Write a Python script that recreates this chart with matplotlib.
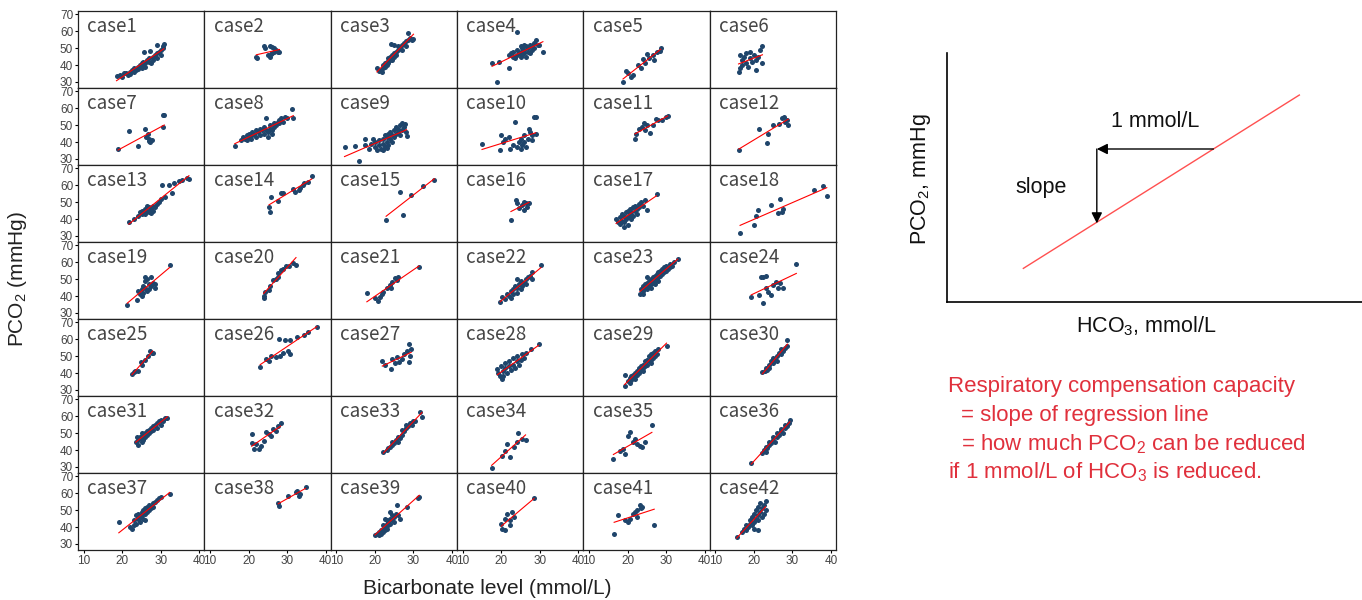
import numpy as np
import matplotlib.pyplot as plt

plt.rcParams['font.family'] = ['Liberation Sans', 'DejaVu Sans']
plt.rcParams['mathtext.fontset'] = 'custom'
plt.rcParams['mathtext.rm'] = 'Liberation Sans'

# (HCO3 mmol/L, PCO2 mmHg) points
c1 = [(18.5, 33.5), (19.5, 34), (20, 33), (20.5, 35), (21, 35.5), (21.5, 34), (22, 36), (22, 34.5), (22.5, 37),
      (23, 36), (23, 38), (23.5, 37), (24, 39), (24, 37.5), (24.5, 40), (25, 38), (25, 41), (25.5, 40), (25.5, 42),
      (26, 41), (26, 39), (26.5, 43), (27, 42), (27, 44), (27.5, 41), (28, 45), (28, 43), (28.5, 46), (29, 44),
      (29, 47), (29.5, 48), (30, 49), (30, 46), (30.5, 51), (30.5, 50), (25.6, 48), (27.3, 48.5), (29, 52), (30.8, 52.5)]
c2 = [(22, 44.5), (22.2, 44), (24, 51), (24.3, 50), (25.5, 51), (26, 50.5), (26.5, 50), (25, 46), (25.5, 45),
      (26, 47), (26.5, 48), (27, 49), (27.5, 48), (28, 47.5), (25.8, 46.5)]
c3 = [(20.5, 38), (21, 36.5), (21.5, 37), (21.8, 35.8), (22, 40), (22, 38), (22.5, 39), (22.5, 41), (23, 40), (23, 42),
      (23.5, 44), (23.5, 41), (24, 43), (24, 45), (24.5, 46), (24.5, 43), (25, 47), (25, 45), (25.5, 48), (25.5, 46),
      (26, 49), (26, 51), (26.5, 50), (27, 52), (27, 49), (27.5, 53), (28, 54), (28, 51), (28.5, 55), (29, 56),
      (28.5, 58.7), (29.5, 55), (30, 55.5), (25, 52), (24.2, 52.7)]
c4 = [(17.6, 41), (19.4, 41.7), (19, 30), (21.9, 38), (24.2, 59.7), (22, 46), (22.5, 47), (23, 45), (23, 48),
      (23.5, 44), (24, 46), (24, 49), (24.5, 47), (25, 45), (25, 48), (25.5, 46), (25.5, 50), (26, 47), (26, 49),
      (26.5, 45), (26.5, 51), (27, 48), (27, 50), (27.5, 47), (27.5, 52), (28, 49), (28, 51), (28.5, 53), (29, 54.7),
      (29.5, 52), (29.9, 51.7), (30.8, 47.7), (28.5, 50), (26, 52), (25, 51)]
c5 = [(18.8, 30.2), (19.5, 36.4), (20, 35), (20.8, 33.2), (21.5, 34), (22.8, 39.8), (23.4, 38), (24.1, 43.8),
      (24.5, 41), (25.1, 46.7), (25.6, 44), (26.5, 46), (26.9, 43.2), (27.5, 48), (28.3, 48.3), (28.6, 50)]
c6 = [(16, 36), (16.5, 38), (17, 40), (17, 43), (17.5, 45), (18, 41), (18, 47), (18.5, 39), (19, 44), (19, 48),
      (19.5, 42), (20, 46), (20.5, 37), (20.5, 43), (21, 45), (21.5, 49), (22, 51.5), (22.2, 41), (16.5, 46)]
c7 = [(18.9, 36), (21.7, 46.3), (24.1, 37.6), (25.8, 47.9), (26.2, 43), (26.6, 45), (26.9, 40.4), (27.3, 39.8),
      (27, 42), (27.6, 41), (30.5, 48.9), (30.5, 55.9), (30.9, 56)]
c8 = [(16.4, 37.6), (18, 41), (18.5, 43), (19, 42), (19.5, 44), (19.5, 41.5), (20, 43), (20, 45), (20.5, 42),
      (21, 44), (21, 46), (21.5, 45), (22, 43), (22, 47), (22.5, 46), (23, 44), (23, 48), (23.5, 47), (24, 45),
      (24, 49), (24.4, 54.5), (24.5, 47), (25, 43), (25, 46), (25.5, 48), (25.5, 50), (26, 47), (26.5, 49),
      (26.5, 51), (27, 50), (27.5, 52), (28, 51), (28, 53), (28.5, 54), (29, 52), (29.5, 55), (30, 54),
      (31.3, 59.3), (31.6, 54), (26, 44.5)]
c9 = [(12.1, 37.3), (14.7, 37.6), (15.8, 28.5), (17.3, 42), (17.5, 38), (18.5, 36), (19, 39), (19.5, 42), (20, 37),
      (20, 40), (20.5, 35), (21, 38), (21, 41), (21.5, 36), (22, 39), (22, 42), (22.5, 37), (22.5, 44), (23, 40),
      (23, 43), (23.5, 38), (23.5, 45), (24, 42), (24, 46), (24.5, 40), (24.5, 44), (25, 47), (25, 43), (25.5, 45),
      (25.5, 49), (26, 46), (26, 48), (26.5, 44), (26.5, 50), (27, 47), (27, 51), (27.5, 49), (27.7, 50.7),
      (28.2, 43.4), (28, 46), (22, 35.5), (23, 36.5)]
c10 = [(15, 39), (19.8, 44.3), (19.6, 35), (20.5, 40), (21, 42), (21.9, 43), (22.3, 36), (23.6, 51.9), (23, 38),
       (24, 37), (24.5, 40), (25, 36), (25, 42), (25.5, 38), (26, 40), (26, 44), (26.5, 37), (27, 42), (27.3, 48),
       (27.5, 46), (28, 44), (28.5, 54.9), (28.9, 54.9), (28.9, 45), (28, 41)]
c11 = [(21.9, 42), (22.3, 45), (23, 48), (23.8, 48.8), (24.3, 51), (24.5, 47), (25.1, 50), (25.9, 45.2), (26.5, 50),
       (27.3, 53.4), (28, 52.8), (29, 53), (30, 54.9), (30.4, 55.5)]
c12 = [(16.1, 35.2), (21.2, 47.7), (23.4, 39.3), (23.7, 45), (24.9, 50), (26.5, 50.5), (27.4, 54), (27.8, 55),
       (28, 52), (28.5, 53), (28.9, 50)]
c13 = [(21.7, 38.4), (23, 40), (24, 42), (24.5, 44), (25, 43), (25, 45), (25.5, 44), (26, 46), (26, 43), (26.5, 45),
       (27, 47), (27, 44), (27.5, 46), (28, 45), (28, 48), (28.5, 47), (29, 49), (29.5, 50), (30, 52), (30.4, 60.3),
       (31, 53), (32.1, 60.3), (32.9, 55.3), (33.3, 61.3), (34.8, 62.3), (35.5, 63), (36.7, 64.2), (37.3, 63.6),
       (26.5, 48), (27.5, 43.5)]
c14 = [(25.5, 44.4), (25.8, 53.3), (25.3, 47), (27.6, 50.7), (28.3, 55.3), (28.9, 55.7), (31.4, 57.6), (32, 56.3),
       (33, 57), (33.3, 58.3), (34, 60), (34.5, 61.3), (35.5, 62), (36.4, 65.6)]
c15 = [(22.9, 39.4), (26.4, 56.3), (27.2, 42.4), (29.3, 54.3), (32.6, 59.3), (35.4, 62.9)]
c16 = [(22.5, 39.4), (23.9, 51.3), (24.2, 49.5), (24.7, 46.4), (25.3, 48.3), (25.9, 45.4), (26.3, 49.3),
       (26.8, 47.3), (27.2, 49.7), (26, 50)]
c17 = [(17, 40), (17.5, 38), (18, 41), (18, 37), (18.5, 43), (18.5, 39), (19, 42), (19, 38.5), (19.5, 44), (19.5, 40),
       (20, 45), (20, 41), (20.5, 43), (20.5, 46), (21, 44), (21, 40), (21.5, 47), (21.5, 42), (22, 45), (22, 48),
       (22.5, 46), (22.5, 43), (23, 49), (23, 47), (23.5, 50), (24, 48), (24.5, 51), (25, 45.4), (27.5, 55),
       (19, 35.5), (20, 36.5)]
c18 = [(16.4, 32), (19.9, 36.4), (20.5, 41.8), (21.1, 45.4), (24.5, 48.3), (26.2, 43.4), (26.8, 51.7), (27.2, 44.4),
       (27.5, 46), (35.5, 57.3), (38, 59.3), (38.9, 53.7)]
c19 = [(21.3, 34.6), (23.8, 37.6), (24, 43), (24.5, 41), (25, 44), (25, 40), (25.5, 46), (25.5, 42), (26, 45),
       (26, 49), (26.5, 43), (26.5, 50), (27, 47), (27, 44), (27.5, 46), (27.5, 51), (28, 48), (28.5, 45), (28.5, 47),
       (32.3, 58.1), (26, 51)]
c20 = [(23.9, 38.6), (24.1, 40), (24.3, 42.6), (25.2, 43.6), (25.6, 46), (26.4, 49.5), (27, 50), (27.7, 53.5),
       (27.7, 51.5), (28.3, 55.5), (28.8, 56), (29.6, 57.5), (30.5, 58), (31.5, 59.5), (32.3, 58.5)]
c21 = [(17.9, 41.6), (20, 38.6), (20.7, 37.2), (21.3, 39.6), (21.7, 41), (22.2, 42.6), (23.2, 44.6), (23.8, 46.6),
       (24.2, 45), (24.5, 48.5), (25.1, 50.5), (25.7, 49.5), (26, 51), (31.4, 56.9)]
c22 = [(19.7, 36.6), (20.3, 39.6), (21, 38), (21.5, 41), (22, 40), (22.5, 43), (22.5, 39), (23, 44), (23, 41),
       (23.5, 46), (24, 42), (24, 45), (24.5, 47), (25, 44), (25, 49), (25.5, 46), (26, 48), (26.5, 50), (26.5, 47),
       (27, 51), (27.5, 52), (28, 50), (28, 54), (30.3, 58.5), (24, 50)]
c23 = [(23.2, 41), (23.5, 44), (24, 43), (24, 46), (24.5, 45), (24.5, 47), (25, 44), (25, 48), (25.5, 46), (25.5, 49),
       (26, 47), (26, 50), (26.5, 48), (26.5, 51), (27, 49), (27, 52), (27.5, 50), (27.5, 53), (28, 51), (28, 54),
       (28.5, 52), (28.5, 55), (29, 53), (29, 56), (29.5, 54), (29.5, 57), (30, 55), (30, 58), (30.5, 56), (31, 57),
       (31, 59), (31.5, 58), (32, 60), (33, 62), (26, 45), (27, 47), (28, 49), (25, 51), (24, 41.5)]
c24 = [(19.3, 39.6), (21.2, 40.6), (21.8, 51.5), (22.4, 51.5), (22.4, 36), (23.1, 44.6), (23.7, 42.6), (24.3, 40.6),
       (25, 46.6), (25.6, 48.5), (26.2, 44.6), (26.8, 47.5), (27.5, 45), (31, 59.1), (23, 52)]
c25 = [(22.5, 39.4), (23, 40.5), (23.3, 41.4), (24.2, 41.4), (24.8, 46.4), (25.2, 45), (26, 47.7), (26.7, 50.3),
       (27.1, 53.3), (27.6, 52), (27.9, 51.7)]
c26 = [(23, 43.4), (24.5, 48.3), (25.2, 47), (25.8, 50.3), (27, 49.3), (28, 60.3), (28.2, 50.3), (29, 52),
       (29.5, 59.3), (30.1, 53.3), (30.8, 51.3), (30.8, 59.3), (32.6, 61.3), (34.5, 62.3), (35.5, 64.2), (37.7, 67.2)]
c27 = [(21.9, 47.3), (22.5, 45), (24.2, 42.4), (24.5, 48.3), (25.2, 46), (25.7, 49.3), (26.3, 46.4), (27, 48.3),
       (27.6, 51.3), (28.2, 53.3), (28.8, 57.3), (28.8, 46.4), (29.4, 54.3), (29, 50)]
c28 = [(19, 42.4), (19.2, 40), (19.7, 38.4), (20.3, 36.4), (20, 44), (20.5, 41), (21, 43), (21, 46), (21.5, 40),
       (22, 44), (22, 47), (22.5, 42), (23, 45), (23, 49), (23.5, 43), (24, 47), (24, 50), (24.5, 45), (25, 48),
       (25.5, 51), (26, 49), (26.5, 52), (27.8, 54.3), (29.7, 56.9), (20.5, 38.5)]
c29 = [(19.2, 39), (19.4, 32.4), (20, 35), (20.5, 34), (20.5, 37), (21, 36), (21, 38), (21.5, 37), (21.5, 39),
       (22, 38), (22, 40), (22.5, 39), (22.5, 41), (23, 40), (23, 43), (23.5, 42), (23.5, 44), (24, 43), (24, 45),
       (24.5, 44), (24.5, 47), (25, 45), (25, 48), (25.5, 47), (25.5, 50), (26, 48), (26, 51), (26.5, 49), (26.5, 52),
       (27, 50), (27, 53), (27.5, 51), (28, 54), (30.1, 56.3), (22, 36.5), (24, 41.5), (26, 46)]
c30 = [(22.2, 40.4), (22.8, 41), (23.2, 43), (23.5, 42), (24, 45), (24, 43), (24.5, 47), (25, 46), (25, 49),
       (25.5, 48), (26, 50), (26, 47), (26.5, 52), (27, 51), (27, 54), (27.5, 53), (28, 55), (28.7, 59.3), (28.5, 56)]
c31 = [(23.5, 44.5), (24, 43), (24.2, 46), (24.5, 48), (25, 45), (25, 47), (25.5, 49), (25.5, 46), (26, 48), (26, 50),
       (26.5, 49), (26.5, 51), (27, 50), (27, 52), (27.5, 51), (27.5, 53), (28, 52), (28, 54), (28.5, 55), (29, 53),
       (29, 56), (29.5, 57), (30, 55), (30, 58), (30.5, 57), (31, 59), (31.7, 58.9), (23.8, 48), (25, 50)]
c32 = [(20.8, 49.5), (21, 44), (21.4, 40.6), (22, 43.6), (22.6, 40.6), (23.2, 42.6), (23.9, 45.6), (24.5, 50.5),
       (25.2, 49.5), (25.8, 48.5), (26.4, 52.5), (27, 51), (27.7, 54.5), (28.3, 55.9)]
c33 = [(22.2, 38.6), (23, 40), (23.5, 41), (24, 42), (24.5, 43), (24.5, 45), (25, 44), (25.5, 46), (26, 45), (26, 48),
       (26.5, 47), (27, 49), (27, 52), (27.5, 51), (28, 53), (28, 55), (28.5, 54), (29, 56), (29.5, 55), (30, 57),
       (31.7, 62.5), (32.2, 59.5), (30.5, 57)]
c34 = [(17.5, 29.3), (20.3, 36.6), (20.9, 39.6), (21.6, 43.6), (22.2, 35.6), (23.4, 41.6), (24.1, 44.6), (24.3, 49.9),
       (25.3, 46.6), (26.3, 46.2)]
c35 = [(16.3, 34.6), (18.1, 39.6), (18.8, 40.5), (19.4, 37.6), (20, 48.5), (20.6, 50.5), (21.3, 44.6), (21.9, 46.6),
       (22.5, 43.6), (23.1, 42.6), (23.8, 41.6), (26.3, 55.1), (24.5, 45)]
c36 = [(19.3, 32.6), (22, 38), (22.5, 40), (23, 39), (23, 42), (23.5, 41), (24, 43), (24, 45), (24.5, 44), (25, 46),
       (25, 47.5), (25.5, 45), (26, 48), (26, 50), (26.5, 49), (27, 51), (27, 52.5), (27.5, 50), (28, 53), (28, 55),
       (28.5, 54), (29, 56), (29.3, 57.5)]
c37 = [(19.1, 43), (22, 40), (22.5, 39), (23, 41), (23, 44), (23.5, 47), (23.5, 42), (24, 45), (24, 48), (24.5, 43),
       (24.5, 46), (25, 47), (25, 49), (25.5, 45), (25.5, 50), (26, 48), (26, 51), (26.5, 49), (26.5, 52), (27, 50),
       (27, 53), (27.5, 51), (28, 54), (28, 52), (28.5, 55), (29, 56), (29.5, 57), (30, 58), (32.3, 59.5), (26, 44)]
c38 = [(27.7, 54.5), (27.8, 52.5), (30.3, 58.5), (32.2, 60.5), (32.5, 61.3), (33, 58.5), (33.4, 59.5), (34.8, 63.9)]
c39 = [(20, 35), (20.5, 36), (21, 37), (21, 35.5), (21.5, 38), (21.5, 36), (22, 39), (22, 37), (22, 41), (22.5, 40),
       (22.5, 38), (23, 42), (23, 39), (23, 44), (23.5, 41), (23.5, 43), (24, 45), (24, 42), (24.5, 44), (24.5, 47),
       (25, 46), (25, 43), (25.5, 48), (25.7, 52.9), (26, 47), (26.5, 45), (28.2, 51.9), (31.3, 56.9), (31.5, 58),
       (24, 49), (22.5, 45)]
c40 = [(20, 42), (20.3, 39), (20.9, 45), (20.9, 38), (21.5, 48), (22.2, 44), (22.2, 41), (22.8, 49), (23.4, 46),
       (28.5, 56.9)]
c41 = [(16.5, 36), (17.5, 47), (19.4, 44), (20, 43), (20.6, 45), (21.3, 48), (21.9, 49), (22.5, 50), (22.5, 46),
       (23.1, 53), (23.8, 52), (23.5, 51), (26.9, 41)]
c42 = [(15.5, 34), (17, 37), (17.5, 39), (18, 38), (18, 41), (18.5, 40), (19, 42), (19, 44), (19.5, 41), (19.5, 46),
       (20, 43), (20, 48), (20.5, 45), (20.5, 50), (21, 44), (21, 47), (21, 52), (21.5, 49), (21.5, 54), (22, 46),
       (22, 51), (22.5, 53), (22.5, 48), (23, 55.5), (23, 50), (20, 39), (21, 38)]

cases = [c1, c2, c3, c4, c5, c6, c7, c8, c9, c10, c11, c12, c13, c14, c15, c16, c17, c18, c19, c20, c21,
         c22, c23, c24, c25, c26, c27, c28, c29, c30, c31, c32, c33, c34, c35, c36, c37, c38, c39, c40, c41, c42]
case_names = ["case%d" % (i + 1) for i in range(len(cases))]
x_ticks = [10, 20, 30, 40]
y_ticks = [30, 40, 50, 60, 70]

# schematic on the right (axes fraction units)
schem_line_x = [0.184, 0.849]
schem_line_y = [0.134, 0.831]

dot_color = '#1f456b'
txt_red = '#e0303c'

fig = plt.figure(figsize=(13.62, 6), dpi=100)
gs = fig.add_gridspec(7, 6, left=78 / 1362, right=836 / 1362, top=1 - 11 / 600, bottom=1 - 550 / 600,
                      wspace=0, hspace=0)

for i, pts in enumerate(cases):
    r, c = divmod(i, 6)
    ax = fig.add_subplot(gs[r, c])
    x = np.array([p[0] for p in pts])
    y = np.array([p[1] for p in pts])
    ax.scatter(x, y, s=13, marker='o', color=dot_color, linewidths=0, zorder=2)
    k, b = np.polyfit(x, y, 1)
    xs = np.array([x.min(), x.max()])
    ax.plot(xs, k * xs + b, color='red', lw=0.8, zorder=3)
    ax.set_xlim(8.5, 41.3)
    ax.set_ylim(26.4, 72)
    ax.text(0.075, 0.935, case_names[i], transform=ax.transAxes, ha='left', va='top',
            fontsize=13.5, color='#454545', family=['Noto Sans CJK JP', 'DejaVu Sans'])
    for s in ax.spines.values():
        s.set_linewidth(0.9)
        s.set_color('#222222')
    if c == 0:
        ax.set_yticks(y_ticks)
        ax.tick_params(axis='y', labelsize=8.5, length=2, width=0.8, pad=1.5, labelcolor='#444444')
    else:
        ax.set_yticks([])
    if r == 6:
        ax.set_xticks(x_ticks)
        ax.tick_params(axis='x', labelsize=8.5, length=2, width=0.8, pad=1.5, labelcolor='#444444')
    else:
        ax.set_xticks([])

fig.text(18 / 1362, 1 - 279 / 600, 'PCO$_\\mathregular{2}$ (mmHg)', rotation=90, ha='center', va='center',
         fontsize=15, color='#222222')
fig.text(487 / 1362, 1 - 589 / 600, 'Bicarbonate level (mmol/L)', ha='center', va='center',
         fontsize=15, color='#222222')

# schematic
sx = fig.add_axes([947 / 1362, 1 - 301.7 / 600, 1 - 947 / 1362, 248.7 / 600])
sx.set_xlim(0, 1)
sx.set_ylim(0, 1)
sx.plot(schem_line_x, schem_line_y, color='#ff5050', lw=1)
sx.annotate('', xy=(0.361, 0.614), xytext=(0.642, 0.614),
            arrowprops=dict(arrowstyle='-|>', color='black', lw=1, mutation_scale=16, shrinkA=0, shrinkB=0))
sx.annotate('', xy=(0.361, 0.315), xytext=(0.361, 0.614),
            arrowprops=dict(arrowstyle='-|>', color='black', lw=1, mutation_scale=16, shrinkA=0, shrinkB=0))
sx.spines['top'].set_visible(False)
sx.spines['right'].set_visible(False)
sx.spines['left'].set_linewidth(1.2)
sx.spines['bottom'].set_linewidth(1.2)
sx.set_xticks([])
sx.set_yticks([])

fig.text(1111 / 1362, 1 - 127.3 / 600, '1 mmol/L', ha='left', va='baseline', fontsize=15.5, color='#111111')
fig.text(1015 / 1362, 1 - 193.3 / 600, 'slope', ha='left', va='baseline', fontsize=15.5, color='#111111')
fig.text(1076 / 1362, 1 - 332.7 / 600, 'HCO$_\\mathregular{3}$, mmol/L', ha='left', va='baseline',
         fontsize=15.5, color='#111111')
fig.text(921 / 1362, 1 - 179 / 600, 'PCO$_\\mathregular{2}$, mmHg', rotation=90, ha='center', va='center',
         fontsize=15.5, color='#111111')

fig.text(948 / 1362, 1 - 391.7 / 600, 'Respiratory compensation capacity', ha='left', va='baseline',
         fontsize=16, color=txt_red)
fig.text(961 / 1362, 1 - 421 / 600, '= slope of regression line', ha='left', va='baseline',
         fontsize=16, color=txt_red)
fig.text(961 / 1362, 1 - 450 / 600, '= how much PCO$_\\mathregular{2}$ can be reduced', ha='left', va='baseline',
         fontsize=16, color=txt_red)
fig.text(948 / 1362, 1 - 478.3 / 600, 'if 1 mmol/L of HCO$_\\mathregular{3}$ is reduced.', ha='left',
         va='baseline', fontsize=16, color=txt_red)

fig.savefig('out.png', dpi=100)
